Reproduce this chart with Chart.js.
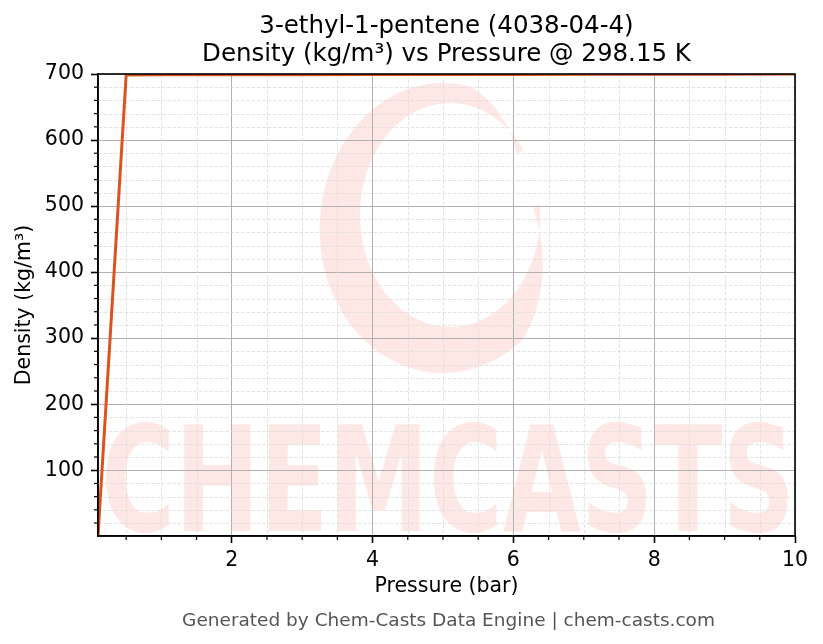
<!DOCTYPE html>
<html><head><meta charset="utf-8">
<script src="https://cdn.jsdelivr.net/npm/chart.js@4.4.1/dist/chart.umd.min.js"></script>
<style>html,body{margin:0;padding:0;background:#fff;} canvas{display:block;}</style>
</head><body>
<canvas id="c" width="823" height="644"></canvas>
<script>
const titleLines = ['3-ethyl-1-pentene (4038-04-4)', 'Density (kg/m³) vs Pressure @ 298.15 K'];
const xLabel = 'Pressure (bar)';
const yLabel = 'Density (kg/m³)';
const footerText = 'Generated by Chem-Casts Data Engine | chem-casts.com';
const watermarkText = 'CHEMCASTS';

const pressure = [0.1, 0.5, 1, 1.5, 2, 3, 4, 5, 6, 7, 8, 9, 10];
const density  = [0.396, 698.6, 698.7, 698.8, 698.8, 698.9, 699.1, 699.2, 699.4, 699.5, 699.7, 699.8, 700.0];

const xTicks = [2, 4, 6, 8, 10];
const yTicks = [100, 200, 300, 400, 500, 600, 700];
const xMinorTicks = [0.5, 1, 1.5, 2.5, 3, 3.5, 4.5, 5, 5.5, 6.5, 7, 7.5, 8.5, 9, 9.5];
const yMinorTicks = [20, 40, 60, 80, 120, 140, 160, 180, 220, 240, 260, 280, 320, 340, 360, 380,
                     420, 440, 460, 480, 520, 540, 560, 580, 620, 640, 660, 680];

const FONT = '"DejaVu Sans", sans-serif';
const pink = 'rgba(250,90,70,0.14)';

function drawRing(ctx) {
  const cx = 450, cy = 215, rx = 90, ry = 112;
  const t0 = -0.1, t1 = 2 * Math.PI - 0.62, n = 200;
  const outer = [], inner = [];
  for (let i = 0; i <= n; i++) {
    const th = t0 + (t1 - t0) * i / n;
    const base = 33 + 9 * Math.sin(th);
    const w = base * Math.max(0.03, Math.min(1, (th - t0) / 1.0, (t1 - th) / 0.7));
    const c = Math.cos(th), s = Math.sin(th);
    inner.push([cx + rx * c, cy + ry * s]);
    outer.push([cx - 7 + (rx + w) * c, cy + 4 + (ry + w) * s]);
  }
  ctx.beginPath();
  outer.forEach((p, i) => i ? ctx.lineTo(p[0], p[1]) : ctx.moveTo(p[0], p[1]));
  for (let i = inner.length - 1; i >= 0; i--) ctx.lineTo(inner[i][0], inner[i][1]);
  ctx.closePath();
  ctx.fill();
}

const decor = {
  id: 'decor',
  beforeDraw(chart) {
    const {ctx, chartArea: a} = chart;
    ctx.save();
    ctx.fillStyle = '#fff';
    ctx.fillRect(0, 0, chart.width, chart.height);
    ctx.beginPath();
    ctx.rect(a.left, a.top, a.right - a.left, a.bottom - a.top);
    ctx.clip();
    ctx.fillStyle = pink;
    drawRing(ctx);
    ctx.font = 'bold 146px ' + FONT;
    const w = ctx.measureText(watermarkText).width;
    ctx.translate(101, 531);
    ctx.scale(694 / w, 1);
    ctx.textBaseline = 'alphabetic';
    ctx.fillText(watermarkText, 0, 0);
    ctx.restore();
  },
  beforeDatasetsDraw(chart) {
    const {ctx, chartArea: a, scales: {x, y}} = chart;
    ctx.save();
    ctx.strokeStyle = '#dddddd';
    ctx.lineWidth = 0.8;
    ctx.setLineDash([3.7, 1.6]);
    xMinorTicks.forEach(v => {
      const px = Math.round(x.getPixelForValue(v)) + 0.5;
      ctx.beginPath(); ctx.moveTo(px, a.top); ctx.lineTo(px, a.bottom); ctx.stroke();
    });
    yMinorTicks.forEach(v => {
      const py = Math.round(y.getPixelForValue(v)) + 0.5;
      ctx.beginPath(); ctx.moveTo(a.left, py); ctx.lineTo(a.right, py); ctx.stroke();
    });
    ctx.restore();
  },
  afterDraw(chart) {
    const {ctx, chartArea: a, scales: {x, y}} = chart;
    ctx.save();
    ctx.strokeStyle = '#000';
    ctx.lineWidth = 1.2;
    xMinorTicks.forEach(v => {
      const px = x.getPixelForValue(v);
      ctx.beginPath(); ctx.moveTo(px, a.bottom); ctx.lineTo(px, a.bottom + 4); ctx.stroke();
    });
    yMinorTicks.forEach(v => {
      const py = y.getPixelForValue(v);
      ctx.beginPath(); ctx.moveTo(a.left, py); ctx.lineTo(a.left - 4, py); ctx.stroke();
    });
    ctx.lineWidth = 1.6;
    ctx.strokeRect(a.left, a.top, a.right - a.left, a.bottom - a.top);
    const cx = (a.left + a.right) / 2;
    ctx.fillStyle = '#000';
    ctx.textAlign = 'center';
    ctx.textBaseline = 'alphabetic';
    ctx.font = '24.5px ' + FONT;
    ctx.fillText(titleLines[0], cx, 33);
    ctx.fillText(titleLines[1], cx, 61);
    ctx.fillStyle = '#555';
    ctx.font = '18.5px ' + FONT;
    ctx.fillText(footerText, cx + 2, 626);
    ctx.restore();
  }
};

new Chart(document.getElementById('c'), {
  type: 'line',
  data: {
    datasets: [{
      data: pressure.map((p, i) => ({x: p, y: density[i]})),
      borderColor: '#d9541e',
      borderWidth: 3,
      pointRadius: 0,
      tension: 0,
      fill: false
    }]
  },
  options: {
    responsive: false,
    animation: false,
    devicePixelRatio: 1,
    layout: {padding: {top: 74, right: 28, bottom: 0, left: 0}},
    plugins: {legend: {display: false}, tooltip: {enabled: false}, title: {display: false}},
    scales: {
      x: {
        type: 'linear',
        min: pressure[0],
        max: pressure[pressure.length - 1],
        afterBuildTicks: s => { s.ticks = xTicks.map(v => ({value: v})); },
        afterFit: s => { s.height = 108; },
        grid: {color: '#b0b0b0', lineWidth: 1, tickColor: '#000', tickWidth: 1.6, tickLength: 7},
        border: {color: '#000', width: 1.6},
        ticks: {font: {size: 20.5, family: FONT}, color: '#000', padding: 5, maxRotation: 0, autoSkip: false,
                callback: v => String(v)},
        title: {display: true, text: xLabel, font: {size: 20.5, family: FONT}, color: '#000',
                padding: {top: 0, bottom: 44.7}}
      },
      y: {
        type: 'linear',
        min: Math.min(...density),
        max: Math.max(...density),
        afterBuildTicks: s => { s.ticks = yTicks.map(v => ({value: v})); },
        afterFit: s => { s.width = 98; },
        grid: {color: '#b0b0b0', lineWidth: 1, tickColor: '#000', tickWidth: 1.6, tickLength: 7},
        border: {color: '#000', width: 1.6},
        ticks: {font: {size: 20.5, family: FONT}, color: '#000', padding: 7, autoSkip: false,
                callback: v => String(v)},
        title: {display: true, text: yLabel, font: {size: 20.5, family: FONT}, color: '#000',
                padding: {top: 12.5, bottom: 0}}
      }
    }
  },
  plugins: [decor]
});
</script>
</body></html>
